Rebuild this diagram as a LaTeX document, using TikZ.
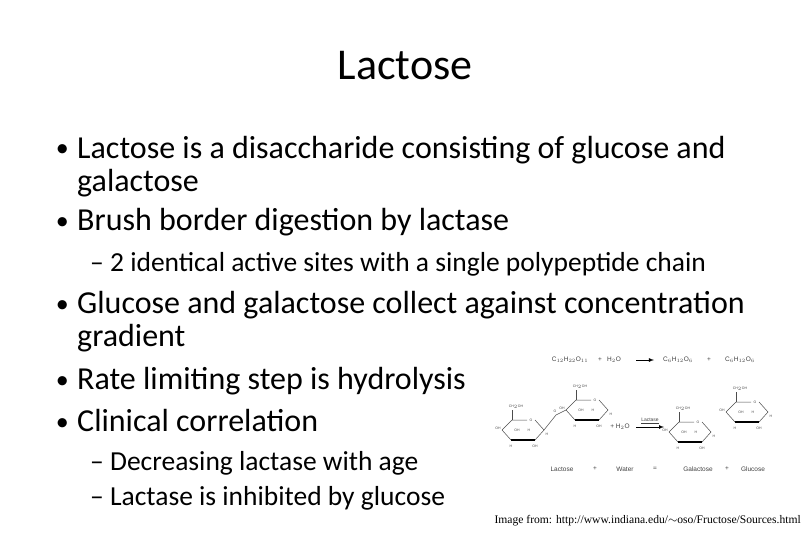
\documentclass[tikz,border=0pt]{standalone}
\usepackage{fontspec}
\setmainfont{Carlito}
\newfontfamily\credfont{Liberation Serif}
\newfontfamily\chemfont{Liberation Sans}
\tikzset{
  ln/.style={anchor=base west, inner sep=0pt, font=\fontsize{32}{32}\selectfont},
  bul/.style={anchor=base east, inner sep=0pt, font=\fontsize{26}{26}\selectfont},
  sub/.style={anchor=base west, inner sep=0pt, font=\fontsize{27.5}{27.5}\selectfont},
  chem/.style={inner sep=0pt, font=\chemfont\fontsize{6.5}{6.5}\selectfont, text=black!75},
  tiny/.style={inner sep=0pt, font=\chemfont\fontsize{3.5}{3.5}\selectfont, text=black!70},
  ring/.pic={
    \draw[black!70, line width=0.5pt] (-21,2) -- (-11,-8) -- (4,-8);
    \draw[black!70, line width=0.5pt] (12,-8) -- (21,2) -- (12,12);
    \draw[black, line width=2.2pt] (12,12) -- (-12,12);
    \draw[black!70, line width=0.5pt] (-12,12) -- (-21,2);
    \node[tiny] at (8,-8) {O};
    \draw[black!70, line width=0.4pt] (-11,-8) -- (-11,-18);
    \node[tiny] at (-7,-21) {CH$_2$OH};
    \node[tiny] at (-25,0) {OH};
    \node[tiny] at (-6,2) {OH};
    \node[tiny] at (6,2) {H};
    \node[tiny] at (-12,18) {H};
    \node[tiny] at (12,18) {OH};
    \node[tiny] at (24,6) {H};
  }
}
\begin{document}
\begin{tikzpicture}[x=1pt,y=-1pt]
\useasboundingbox (0,0) rectangle (810,540);
\node[inner sep=0pt, font=\fontsize{44}{44}\selectfont, anchor=base] (title) at (405,80) {Lactose};
\node[bul] (b1) at (69,157) {•};
\node[ln] (t1) at (77,158) {Lactose is a disaccharide consisting of glucose and};
\node[ln] (t1b) at (77,191) {galactose};
\node[bul] (b2) at (69,229) {•};
\node[ln] (t2) at (77,230) {Brush border digestion by lactase};
\node[sub] (t3) at (90,271) {– 2 identical active sites with a single polypeptide chain};
\node[bul] (b4) at (69,312) {•};
\node[ln] (t4) at (77,313) {Glucose and galactose collect against concentration};
\node[ln] (t4b) at (77,346) {gradient};
\node[bul] (b5) at (69,388) {•};
\node[ln] (t5) at (77,389) {Rate limiting step is hydrolysis};
\node[bul] (b6) at (69,430) {•};
\node[ln] (t6) at (77,431) {Clinical correlation};
\node[sub] (t7) at (90,470) {– Decreasing lactase with age};
\node[sub] (t8) at (90,505) {– Lactase is inhibited by glucose};
\node[inner sep=0pt, font=\credfont\fontsize{11.6}{11.6}\selectfont, anchor=base east] (cred) at (801,523) {Image from: http://www.indiana.edu/$\sim$oso/Fructose/Sources.html};
% equation
\node[chem] (e1) at (570,360) {C$_{12}$H$_{22}$O$_{11}$};
\node[chem] (e2) at (600,360) {+};
\node[chem] (e3) at (614,360) {H$_2$O};
\coordinate (a1) at (636,360); \coordinate (a2) at (654,360);
\draw[-latex, line width=0.8pt] (a1) -- (a2);
\node[chem] (e4) at (678,360) {C$_6$H$_{12}$O$_6$};
\node[chem] (e5) at (709,360) {+};
\node[chem] (e6) at (740,360) {C$_6$H$_{12}$O$_6$};
% rings
\pic at (523,428) {ring};
\pic at (587,408) {ring};
\draw[black!70, line width=0.5pt] (544,430) -- (556,415) -- (566,410);
\node[tiny] at (555,411) {O};
\node[chem] (pl) at (620,427) {+ H$_2$O};
\coordinate (b1a) at (636,427); \coordinate (b1b) at (664,427);
\draw[-latex, line width=0.7pt] (b1a) -- (b1b);
\node[chem, font=\chemfont\fontsize{5}{5}\selectfont] (lac) at (650,421) {\underline{Lactase}};
\pic at (690,430) {ring};
\pic at (747,410) {ring};
% labels
\node[chem] (l1) at (562,469) {Lactose};
\node[chem] (l2) at (595,469) {+};
\node[chem] (l3) at (625,469) {Water};
\node[chem] (l4) at (655,469) {=};
\node[chem] (l5) at (698,469) {Galactose};
\node[chem] (l6) at (727,469) {+};
\node[chem] (l7) at (753,469) {Glucose};
\end{tikzpicture}
\end{document}
